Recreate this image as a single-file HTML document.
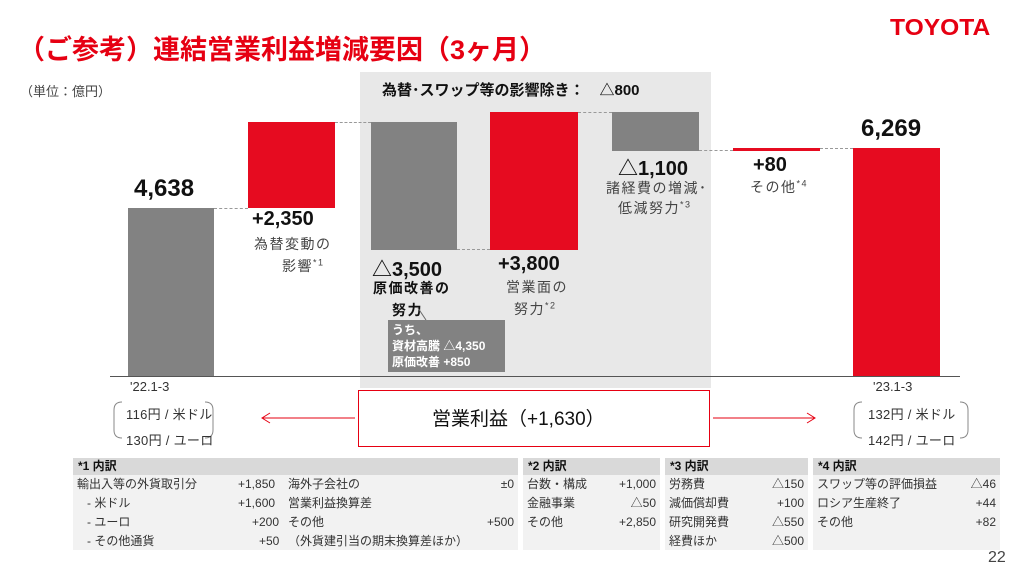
<!DOCTYPE html>
<html><head><meta charset="utf-8"><style>
body{margin:0;width:1024px;height:576px;background:#fff;position:relative;overflow:hidden;font-family:"Liberation Sans","Noto Sans CJK JP",sans-serif;color:#222}
.a{position:absolute;white-space:nowrap}
.bar{position:absolute}
.g{background:#828282}.r{background:#e60b20}
.big{font-weight:bold;font-size:24px;color:#111}
.lab{font-size:14px;color:#444;text-align:center;letter-spacing:1.5px}
.dash{position:absolute;border-top:1.5px dashed #999;height:0}
.tb{position:absolute;top:458px;height:92px;background:#f2f2f2;font-size:12px;color:#333}
.tb .h{background:#d9d9d9;height:17px;font-weight:bold;padding-left:5px;line-height:17px;color:#111}
.row{position:absolute;left:0;right:0;height:19px;line-height:19px}
.row span{position:absolute}
</style></head><body>
<div class="a" style="left:18px;top:28px;font-size:27px;font-weight:bold;color:#e60012">（ご参考）連結営業利益増減要因（3ヶ月）</div>
<div class="a" style="left:890px;top:14px;font-size:23px;font-weight:900;color:#e60012;transform:scaleX(1.07);transform-origin:left">TOYOTA</div>
<div class="a" style="left:20px;top:81px;font-size:13px;color:#444">（単位：億円）</div>

<div class="bar" style="left:360px;top:72px;width:351px;height:316px;background:#e8e8e8"></div>
<div class="a" style="left:382px;top:79px;font-size:15px;font-weight:bold;color:#111">為替･スワップ等の影響除き：　△800</div>

<div class="bar g" style="left:128px;top:208px;width:86px;height:168px"></div>
<div class="bar r" style="left:248px;top:122px;width:87px;height:86px"></div>
<div class="bar g" style="left:371px;top:122px;width:86px;height:128px"></div>
<div class="bar r" style="left:490px;top:112px;width:88px;height:138px"></div>
<div class="bar g" style="left:612px;top:112px;width:87px;height:39px"></div>
<div class="bar r" style="left:733px;top:148px;width:87px;height:3px"></div>
<div class="bar r" style="left:853px;top:148px;width:87px;height:228px"></div>

<div class="dash" style="left:214px;top:208px;width:34px"></div>
<div class="dash" style="left:335px;top:122px;width:36px"></div>
<div class="dash" style="left:457px;top:249px;width:33px"></div>
<div class="dash" style="left:578px;top:112px;width:34px"></div>
<div class="dash" style="left:699px;top:150px;width:34px"></div>
<div class="dash" style="left:820px;top:148px;width:33px"></div>
<div class="bar" style="left:110px;top:376px;width:850px;height:1px;background:#555"></div>

<div class="a big" style="left:134px;top:175px">4,638</div>
<div class="a big" style="left:861px;top:115px">6,269</div>
<div class="a big" style="left:252px;top:208px;font-size:20px">+2,350</div>
<div class="a lab" style="left:254px;top:234px">為替変動の</div>
<div class="a lab" style="left:282px;top:256px">影響<sup style="font-size:9px">*1</sup></div>
<div class="a big" style="left:372px;top:253px;font-size:20px">△3,500</div>
<div class="a lab" style="left:373px;top:278px;font-weight:bold;color:#111">原価改善の</div>
<div class="a lab" style="left:392px;top:300px;font-weight:bold;color:#111">努力</div>
<div class="a big" style="left:498px;top:253px;font-size:20px">+3,800</div>
<div class="a lab" style="left:506px;top:277px">営業面の</div>
<div class="a lab" style="left:514px;top:299px">努力<sup style="font-size:9px">*2</sup></div>
<div class="a big" style="left:618px;top:152px;font-size:20px">△1,100</div>
<div class="a lab" style="left:606px;top:178px">諸経費の増減･</div>
<div class="a lab" style="left:618px;top:198px">低減努力<sup style="font-size:9px">*3</sup></div>
<div class="a big" style="left:753px;top:154px;font-size:20px">+80</div>
<div class="a lab" style="left:750px;top:177px">その他<sup style="font-size:9px">*4</sup></div>

<svg class="a" style="left:0;top:0" width="1024" height="576"><line x1="418" y1="308" x2="426" y2="320" stroke="#666"/>
<g stroke="#e60012" fill="none" stroke-width="1"><line x1="262" y1="418" x2="355" y2="418"/><polyline points="270,413 262,418 270,423"/><line x1="713" y1="418" x2="815" y2="418"/><polyline points="807,413 815,418 807,423"/></g>
<g stroke="#888" fill="none"><path d="M122,402 q-8,0 -8,8 v20 q0,8 8,8"/><path d="M205,402 q8,0 8,8 v20 q0,8 -8,8"/><path d="M862,402 q-8,0 -8,8 v20 q0,8 8,8"/><path d="M960,402 q8,0 8,8 v20 q0,8 -8,8"/>
<path d="M88,497 q-4,0 -4,5 v40 q0,5 4,5"/><path d="M278,497 q4,0 4,4 v40 q0,5 -4,5"/></g></svg>
<div class="bar" style="left:388px;top:320px;width:117px;height:52px;background:#828282"></div>
<div class="a" style="left:392px;top:322px;font-size:12px;font-weight:bold;color:#fff;line-height:16px">うち、<br>資材高騰 △4,350<br>原価改善 +850</div>

<div class="a" style="left:130px;top:379px;font-size:13px;color:#333">'22.1-3</div>
<div class="a" style="left:126px;top:404px;font-size:13px;color:#333;letter-spacing:0.3px">116円 / 米ドル</div>
<div class="a" style="left:126px;top:430px;font-size:13px;color:#333;letter-spacing:0.3px">130円 / ユーロ</div>
<div class="a" style="left:873px;top:379px;font-size:13px;color:#333">'23.1-3</div>
<div class="a" style="left:868px;top:404px;font-size:13px;color:#333;letter-spacing:0.3px">132円 / 米ドル</div>
<div class="a" style="left:868px;top:430px;font-size:13px;color:#333;letter-spacing:0.3px">142円 / ユーロ</div>
<div class="bar" style="left:358px;top:390px;width:350px;height:55px;border:1.5px solid #e60012;background:#fff"></div>
<div class="a" style="left:432px;top:404px;font-size:19px;color:#111">営業利益（+1,630）</div>

<div class="tb" style="left:73px;width:445px"><div class="h">*1 内訳</div>
<div class="row" style="top:17px"><span style="left:4px">輸出入等の外貨取引分</span><span style="left:165px">+1,850</span><span style="left:215px">海外子会社の</span><span style="right:4px">±0</span></div>
<div class="row" style="top:36px"><span style="left:14px">- 米ドル</span><span style="left:165px">+1,600</span><span style="left:215px">営業利益換算差</span></div>
<div class="row" style="top:55px"><span style="left:14px">- ユーロ</span><span style="left:179px">+200</span><span style="left:215px">その他</span><span style="right:4px">+500</span></div>
<div class="row" style="top:74px"><span style="left:14px">- その他通貨</span><span style="left:186px">+50</span><span style="left:215px">（外貨建引当の期末換算差ほか）</span></div></div>
<div class="tb" style="left:523px;width:137px"><div class="h">*2 内訳</div>
<div class="row" style="top:17px"><span style="left:4px">台数・構成</span><span style="right:4px">+1,000</span></div>
<div class="row" style="top:36px"><span style="left:4px">金融事業</span><span style="right:4px">△50</span></div>
<div class="row" style="top:55px"><span style="left:4px">その他</span><span style="right:4px">+2,850</span></div></div>
<div class="tb" style="left:665px;width:143px"><div class="h">*3 内訳</div>
<div class="row" style="top:17px"><span style="left:4px">労務費</span><span style="right:4px">△150</span></div>
<div class="row" style="top:36px"><span style="left:4px">減価償却費</span><span style="right:4px">+100</span></div>
<div class="row" style="top:55px"><span style="left:4px">研究開発費</span><span style="right:4px">△550</span></div>
<div class="row" style="top:74px"><span style="left:4px">経費ほか</span><span style="right:4px">△500</span></div></div>
<div class="tb" style="left:813px;width:187px"><div class="h">*4 内訳</div>
<div class="row" style="top:17px"><span style="left:4px">スワップ等の評価損益</span><span style="right:4px">△46</span></div>
<div class="row" style="top:36px"><span style="left:4px">ロシア生産終了</span><span style="right:4px">+44</span></div>
<div class="row" style="top:55px"><span style="left:4px">その他</span><span style="right:4px">+82</span></div></div>
<div class="a" style="left:988px;top:549px;font-size:16px;color:#444">22</div>
</body></html>
